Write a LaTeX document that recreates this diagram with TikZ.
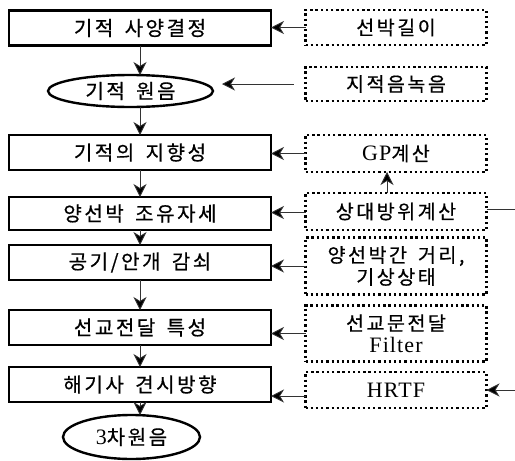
\documentclass[tikz,border=0pt]{standalone}
\usepackage{fontspec}
\setmainfont{Liberation Serif}[LetterSpace=5]
\newfontfamily\krfont{Noto Sans CJK KR}[LetterSpace=13,WordSpace=1.6,FakeBold=0.6]
\newcommand{\K}[1]{{\krfont #1}}
\usetikzlibrary{arrows.meta,shapes.geometric}
\tikzset{
  mainbox/.style={draw, line width=2.4pt, minimum width=262pt, inner sep=0pt, outer sep=0pt, font=\fontsize{20}{22}\selectfont},
  sidebox/.style={draw, line width=2.3pt, dash pattern=on 2.3pt off 2.9pt, minimum width=181pt, inner sep=0pt, outer sep=0pt, align=center, font=\fontsize{19.5}{22}\selectfont},
  oval/.style={draw, ellipse, line width=2.4pt, inner sep=0pt, outer sep=0pt, font=\fontsize{20}{22}\selectfont},
  arr/.style={draw=black!80, line width=0.8pt, -{Stealth[length=13pt,width=13pt,inset=4pt,fill=black]}},
  ln/.style={draw=black!80, line width=0.8pt}
}
\begin{document}
\begin{tikzpicture}[x=1pt,y=-1pt]
\useasboundingbox (0,0) rectangle (515,461);
% main column
\node[mainbox, minimum height=35pt] (b1) at (140,28) {\K{기적 사양결정}};
\node[oval, minimum width=165pt, minimum height=32pt] (e1) at (130.5,91) {\K{기적 원음}};
\node[mainbox, minimum height=35pt] (b2) at (140,152.5) {\K{기적의 지향성}};
\node[mainbox, minimum height=33pt] (b3) at (140,213.5) {\K{양선박 조유자세}};
\node[mainbox, minimum height=35pt] (b4) at (140,262.5) {\K{공기/안개 감쇠}};
\node[mainbox, minimum height=35pt] (b5) at (140,327.5) {\K{선교전달 특성}};
\node[mainbox, minimum height=35pt] (b6) at (140,384.5) {\K{해기사 견시방향}};
\node[oval, minimum width=137pt, minimum height=44pt] (e2) at (131.5,437) {{\fontsize{22}{24}\selectfont 3}\K{차원음}};
% side column
\node[sidebox, minimum height=35pt] (r1) at (396,27.5) {\K{선박길이}};
\node[sidebox, minimum height=34pt] (r2) at (396,84) {\K{지적음녹음}};
\node[sidebox, minimum height=37pt] (r3) at (396,153.5) {{\fontsize{22}{24}\selectfont GP}\K{계산}};
\node[sidebox, minimum height=37pt] (r4) at (396,211.5) {\K{상대방위계산}};
\node[sidebox, minimum height=57pt] (r5) at (396,266) {\K{양선박간 거리,}\\\K{기상상태}};
\node[sidebox, minimum height=56pt] (r6) at (396,333.5) {\K{선교문전달}\\{\fontsize{22}{22}\selectfont Filter}};
\node[sidebox, minimum height=36pt] (r7) at (396,390) {\fontsize{22}{24}\selectfont HRTF};
\coordinate (o1) at (515,209);
\coordinate (o2) at (515,390);
% vertical flow
\draw[arr] (b1.south) -- (b1.south |- e1.north);
\draw[arr] (b1.south |- e1.south) -- (b2.north);
\draw[arr] (b2.south) -- (b3.north);
\draw[arr] (b3.south) -- (b4.north);
\draw[arr] (b4.south) -- (b5.north);
\draw[arr] (b5.south) -- (b6.north);
\draw[arr] (b6.south) -- (b6.south |- e2.north);
% side arrows
\draw[arr] (r1.west) -- (r1.west -| b1.east);
\draw[arr, shorten <=12pt, shorten >=9pt] (r2.west) -- (r2.west -| e1.east);
\draw[arr] (r3.west) -- (r3.west -| b2.east);
\draw[arr] ([yshift=-1pt]r4.west) -- ([yshift=-1pt]r4.west -| b3.east);
\draw[arr] (r5.west) -- (r5.west -| b4.east);
\draw[arr] (r6.west) -- (r6.west -| b5.east);
\draw[arr] ([yshift=-6pt]r7.west) -- ([yshift=-6pt]r7.west -| b6.east);
\draw[arr] ([xshift=-9pt]r4.north) -- ([xshift=-9pt]r3.south);
\draw[ln] (r4.east |- o1) -- (o1);
\draw[arr] (o2) -- (r7.east);
\end{tikzpicture}
\end{document}
